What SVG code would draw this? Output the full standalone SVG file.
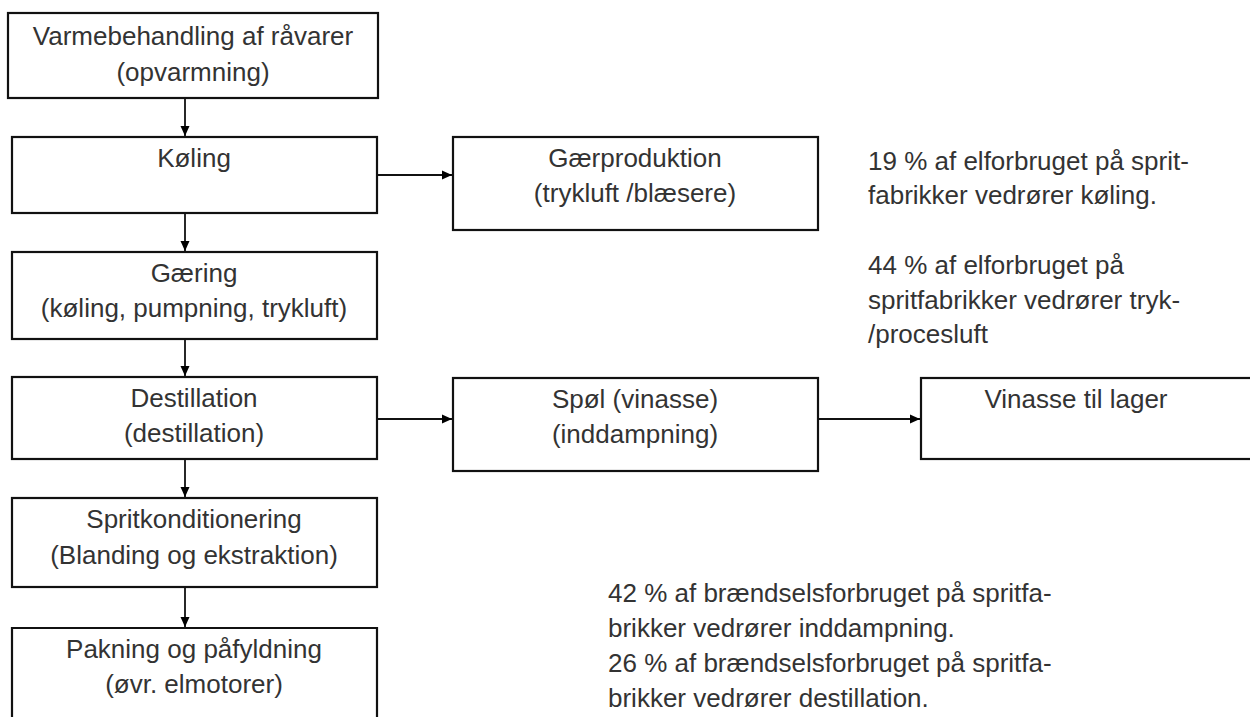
<svg xmlns="http://www.w3.org/2000/svg" width="1250" height="717" viewBox="0 0 1250 717">
  <defs>
    <marker id="arrow" viewBox="0 0 10 10" refX="10" refY="5" markerWidth="10" markerHeight="10" markerUnits="userSpaceOnUse" orient="auto">
      <path d="M0,0.5 L10,5 L0,9.5 z" fill="#000"/>
    </marker>
    <style>
      .box { fill: #fff; stroke: #111; stroke-width: 2.2; }
      .lbl { font-family: "Liberation Sans", Arial, sans-serif; font-size: 26px; fill: #333; }
      .c { text-anchor: middle; }
      .edge { stroke: #111; stroke-width: 1.8; fill: none; marker-end: url(#arrow); }
    </style>
  </defs>
  <rect width="1250" height="717" fill="#fff"/>

  <!-- process chain, left column -->
  <g id="n-varmebehandling">
    <rect class="box" x="8" y="13" width="370" height="85"/>
    <text class="lbl c" x="193" y="45">Varmebehandling af råvarer</text>
    <text class="lbl c" x="193" y="81">(opvarmning)</text>
  </g>
  <g id="n-koeling">
    <rect class="box" x="12" y="137" width="365" height="76"/>
    <text class="lbl c" x="194" y="167">Køling</text>
  </g>
  <g id="n-gaering">
    <rect class="box" x="12" y="252" width="365" height="87"/>
    <text class="lbl c" x="194" y="282">Gæring</text>
    <text class="lbl c" x="194" y="317">(køling, pumpning, trykluft)</text>
  </g>
  <g id="n-destillation">
    <rect class="box" x="12" y="377" width="365" height="82"/>
    <text class="lbl c" x="194" y="407">Destillation</text>
    <text class="lbl c" x="194" y="442">(destillation)</text>
  </g>
  <g id="n-spritkonditionering">
    <rect class="box" x="12" y="498" width="365" height="89"/>
    <text class="lbl c" x="194" y="528">Spritkonditionering</text>
    <text class="lbl c" x="194" y="564">(Blanding og ekstraktion)</text>
  </g>
  <g id="n-pakning">
    <path class="box" d="M12,730 V628 H377 V730"/>
    <text class="lbl c" x="194" y="658">Pakning og påfyldning</text>
    <text class="lbl c" x="194" y="693">(øvr. elmotorer)</text>
  </g>

  <!-- side branches -->
  <g id="n-gaerproduktion">
    <rect class="box" x="453" y="137" width="365" height="93"/>
    <text class="lbl c" x="635" y="167">Gærproduktion</text>
    <text class="lbl c" x="635" y="202">(trykluft /blæsere)</text>
  </g>
  <g id="n-spoel">
    <rect class="box" x="453" y="378" width="365" height="93"/>
    <text class="lbl c" x="635" y="408">Spøl (vinasse)</text>
    <text class="lbl c" x="635" y="443">(inddampning)</text>
  </g>
  <g id="n-vinasse-lager">
    <rect class="box" x="921" y="378" width="340" height="81"/>
    <text class="lbl c" x="1076" y="408">Vinasse til lager</text>
  </g>

  <!-- notes -->
  <g id="note-koeling">
    <text class="lbl" x="868" y="170">19 % af elforbruget på sprit-</text>
    <text class="lbl" x="868" y="204">fabrikker vedrører køling.</text>
  </g>
  <g id="note-trykluft">
    <text class="lbl" x="868" y="274">44 % af elforbruget på</text>
    <text class="lbl" x="868" y="309">spritfabrikker vedrører tryk-</text>
    <text class="lbl" x="868" y="343">/procesluft</text>
  </g>
  <g id="note-inddampning">
    <text class="lbl" x="608" y="602">42 % af brændselsforbruget på spritfa-</text>
    <text class="lbl" x="608" y="637">brikker vedrører inddampning.</text>
  </g>
  <g id="note-destillation">
    <text class="lbl" x="608" y="672">26 % af brændselsforbruget på spritfa-</text>
    <text class="lbl" x="608" y="707">brikker vedrører destillation.</text>
  </g>

  <!-- connectors -->
  <g id="connectors">
    <line class="edge" x1="185" y1="98" x2="185" y2="136"/>
    <line class="edge" x1="185" y1="213" x2="185" y2="251"/>
    <line class="edge" x1="185" y1="339" x2="185" y2="376"/>
    <line class="edge" x1="185" y1="459" x2="185" y2="497"/>
    <line class="edge" x1="185" y1="587" x2="185" y2="627"/>
    <line class="edge" x1="377" y1="175" x2="452" y2="175"/>
    <line class="edge" x1="377" y1="419" x2="452" y2="419"/>
    <line class="edge" x1="818" y1="419" x2="920" y2="419"/>
  </g>
</svg>
